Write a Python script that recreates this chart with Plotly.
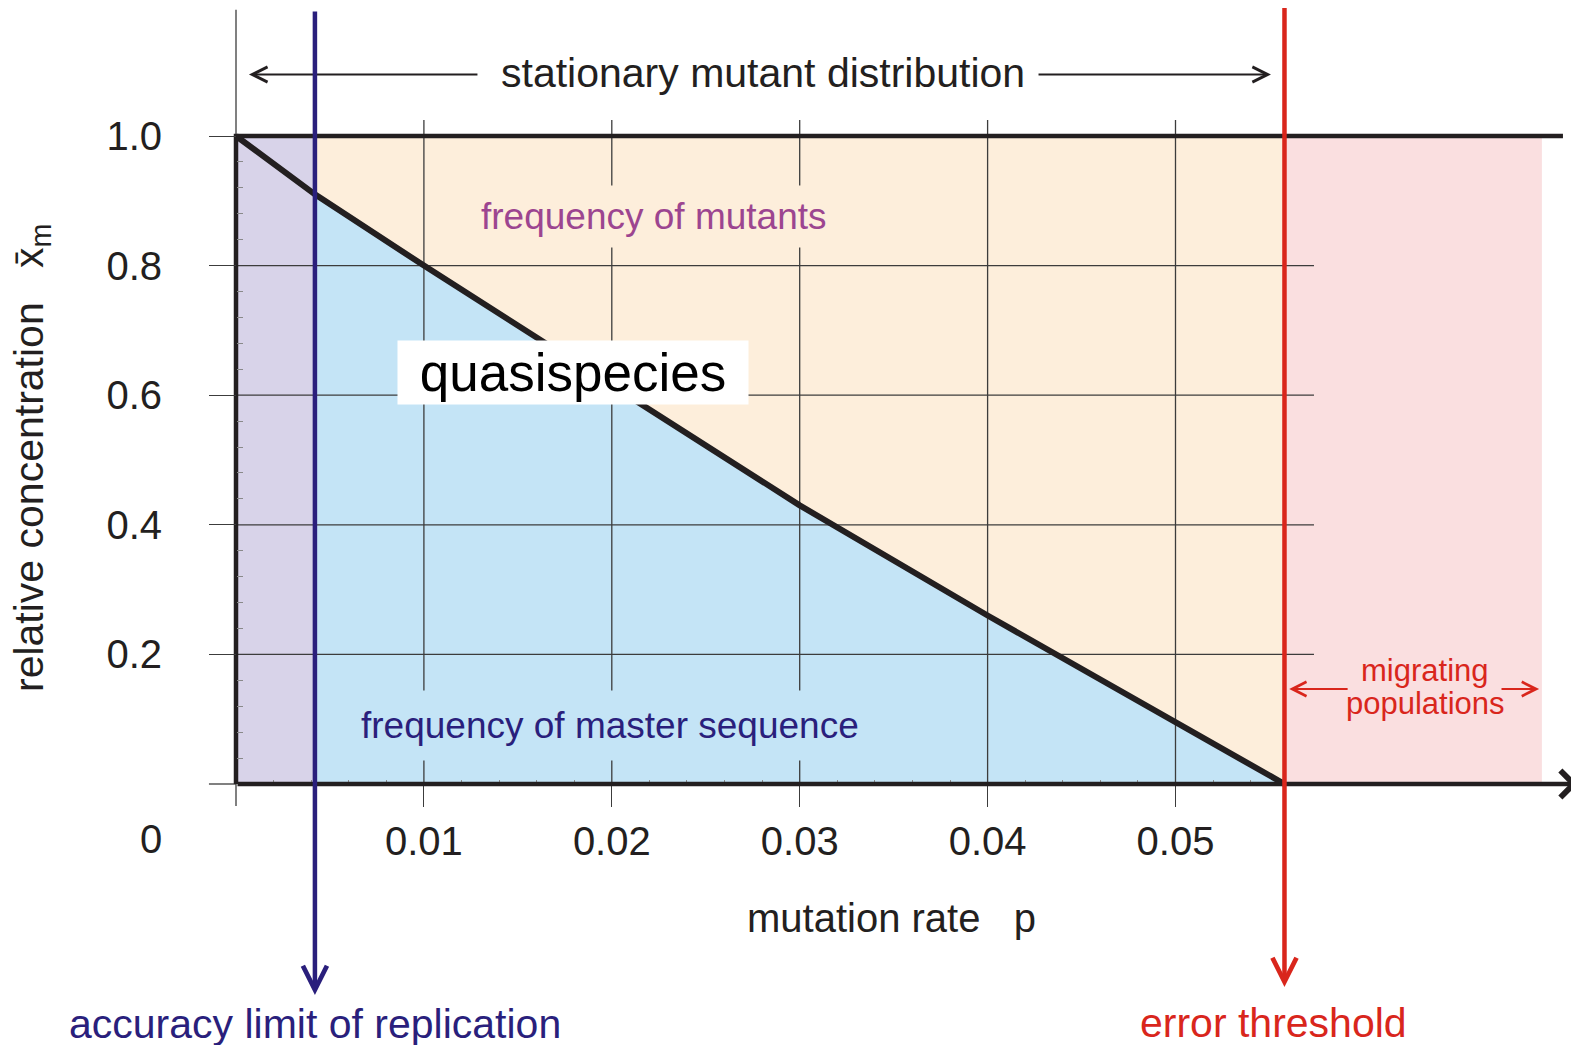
import plotly.graph_objects as go

# ---------------- data ----------------
p_vals = [0.0, 0.0042, 0.01, 0.02, 0.03, 0.04, 0.05, 0.0558]       # mutation rate p
xm_vals = [1.0, 0.91, 0.80, 0.615, 0.43, 0.26, 0.094, 0.0]         # relative concentration of master
p_accuracy = 0.0042      # accuracy limit of replication
p_error = 0.0558         # error threshold
p_migr_end = 0.0695      # end of migrating-populations band

x_tick_vals = [0.01, 0.02, 0.03, 0.04, 0.05]
x_tick_text = ["0.01", "0.02", "0.03", "0.04", "0.05"]
y_tick_vals = [0.2, 0.4, 0.6, 0.8, 1.0]
y_tick_text = ["0.2", "0.4", "0.6", "0.8", "1.0"]
grid_y = [0.2, 0.4, 0.6, 0.8]
grid_x = [0.01, 0.02, 0.03, 0.04, 0.05]

# ---------------- styling ----------------
FONT = "Liberation Sans, Arial, Helvetica, sans-serif"
BLACK = "#231f20"
GRID = "#3c3c3c"
LAV = "#d8d3e9"
BLUE_FILL = "#c4e4f6"
PEACH = "#fdeedb"
PINK = "#fadfe0"
NAVY = "#2a1f7c"
RED = "#d9261c"
PURPLE_TXT = "#9c4590"

W, H = 1571, 1037           # page body adds an 8px offset
PX_PER_X = 18790.0          # pixels per unit p
PX_PER_Y = 648.0            # pixels per unit concentration
X0_PX, Y0_PX = 228.0, 776.0
x_range = [-X0_PX / PX_PER_X, (W - X0_PX) / PX_PER_X]
y_range = [(Y0_PX - H) / PX_PER_Y, Y0_PX / PX_PER_Y]

fig = go.Figure()

# ---- regions ----
fig.add_trace(go.Scatter(x=[0, p_accuracy, p_accuracy, 0, 0], y=[0, 0, 1, 1, 0],
                         fill="toself", fillcolor=LAV, mode="none", hoverinfo="skip"))
cx = [p for p in p_vals if p >= p_accuracy]
cy = [y for p, y in zip(p_vals, xm_vals) if p >= p_accuracy]
fig.add_trace(go.Scatter(x=cx + [p_error, p_accuracy, cx[0]], y=cy + [0, 0, cy[0]],
                         fill="toself", fillcolor=BLUE_FILL, mode="none", hoverinfo="skip"))
fig.add_trace(go.Scatter(x=cx + [p_error, p_accuracy, cx[0]], y=cy + [1, 1, cy[0]],
                         fill="toself", fillcolor=PEACH, mode="none", hoverinfo="skip"))
fig.add_trace(go.Scatter(x=[p_error, p_migr_end, p_migr_end, p_error, p_error], y=[0, 0, 1, 1, 0],
                         fill="toself", fillcolor=PINK, mode="none", hoverinfo="skip"))

# ---- grid lines ----
gx, gy = [], []
for yv in grid_y:
    gx += [0, 0.05737, None]
    gy += [yv, yv, None]
for xv in grid_x:
    gx += [xv, xv, None]
    gy += [0, 1.0247, None]
gx += [0, 0, None, -0.00144, 0, None]
gy += [-0.034, 1.195, None, 0, 0, None]
fig.add_trace(go.Scatter(x=gx, y=gy, mode="lines", line=dict(color=GRID, width=1.3),
                         hoverinfo="skip"))

# ---- curve ----
fig.add_trace(go.Scatter(x=p_vals, y=xm_vals, mode="lines",
                         line=dict(color=BLACK, width=6), hoverinfo="skip"))

# ---- frame lines ----
fig.add_trace(go.Scatter(x=[0, 0, 0.07062], y=[0, 1, 1], mode="lines",
                         line=dict(color=BLACK, width=4.5), hoverinfo="skip"))

annotations = []

def arrow(x_tail, y_tail, x_tip, y_tip, color, width, head, size):
    annotations.append(dict(x=x_tip, y=y_tip, ax=x_tail, ay=y_tail, xref="x", yref="y",
                            axref="x", ayref="y", text="", showarrow=True,
                            arrowhead=head, arrowsize=size, arrowwidth=width,
                            arrowcolor=color, standoff=0, startstandoff=0))

def label(x, y, text, size, color, **kw):
    d = dict(x=x, y=y, xref="x", yref="y", text=text, showarrow=False,
             font=dict(family=FONT, size=size, color=color))
    d.update(kw)
    annotations.append(d)

# x axis with arrow
arrow(0, 0, 0.07142, 0, BLACK, 4.5, 4, 1.15)
# stationary mutant distribution arrows
arrow(0.01293, 1.0949, 0.00069, 1.0949, BLACK, 2, 5, 1.5)
arrow(0.04263, 1.0949, 0.05508, 1.0949, BLACK, 2, 5, 1.5)
# migrating populations arrows
arrow(0.05924, 0.1466, 0.05605, 0.1466, RED, 2, 5, 1.4)
arrow(0.06727, 0.1466, 0.06935, 0.1466, RED, 2, 5, 1.4)
# accuracy limit and error threshold verticals
arrow(p_accuracy, 1.1944, p_accuracy, -0.3256, NAVY, 4.5, 5, 1.05)
arrow(p_error, 1.2022, p_error, -0.3133, RED, 4.5, 5, 1.05)

# texts
label(0.02805, 1.098, "stationary mutant distribution", 41, BLACK)
label(0.02222, 0.8758, "frequency of mutants", 37, PURPLE_TXT, bgcolor=PEACH, borderpad=10)
label(0.0199, 0.091, "frequency of master sequence", 37, NAVY, bgcolor=BLUE_FILL, borderpad=14)
label(0.01793, 0.635, "quasispecies", 53, "#000000", bgcolor="#ffffff",
      width=350, height=63, borderpad=0)
label(0.06328, 0.1744, "migrating", 31, RED)
label(0.06328, 0.1235, "populations", 31, RED)
label(0.03486, -0.2068, "mutation rate&nbsp;&nbsp;&nbsp;p", 40, BLACK)
label(-0.004524, -0.0849, "0", 40, BLACK)
label(p_accuracy, -0.3704, "accuracy limit of replication", 41, NAVY)
label(0.05519, -0.3688, "error threshold", 41, RED)
label(-0.01086, 0.503, "relative concentration&nbsp;&nbsp;&nbsp;x\u0304<sub>m</sub>", 41, BLACK,
      textangle=-90)

minor_x = [0.002, 0.004, 0.006, 0.008, 0.012, 0.014, 0.016, 0.018, 0.022, 0.024, 0.026, 0.028,
           0.032, 0.034, 0.036, 0.038, 0.042, 0.044, 0.046, 0.048, 0.052, 0.054]
minor_y = [0.04, 0.08, 0.12, 0.16, 0.24, 0.28, 0.32, 0.36, 0.44, 0.48, 0.52, 0.56,
           0.64, 0.68, 0.72, 0.76, 0.84, 0.88, 0.92, 0.96]

fig.update_layout(
    width=W, height=H, margin=dict(l=0, r=0, t=0, b=0),
    paper_bgcolor="white", plot_bgcolor="white", showlegend=False,
    annotations=annotations,
    xaxis=dict(range=x_range, autorange=False, anchor="free",
               position=(H - Y0_PX) / H, showgrid=False, zeroline=False, showline=False,
               tickmode="array", tickvals=x_tick_vals, ticktext=x_tick_text,
               ticks="outside", ticklen=22, tickwidth=1.3, tickcolor=GRID,
               ticklabelstandoff=0,
               tickfont=dict(family=FONT, size=40, color=BLACK),
               minor=dict(tickmode="array", tickvals=minor_x, ticks="inside",
                          ticklen=4, tickwidth=1, tickcolor="#8a8a8a", showgrid=False)),
    yaxis=dict(range=y_range, autorange=False, anchor="free",
               position=X0_PX / W, showgrid=False, zeroline=False, showline=False,
               tickmode="array", tickvals=y_tick_vals, ticktext=y_tick_text,
               ticks="outside", ticklen=27, tickwidth=1.3, tickcolor=GRID,
               ticklabelstandoff=39,
               tickfont=dict(family=FONT, size=40, color=BLACK),
               minor=dict(tickmode="array", tickvals=minor_y, ticks="inside",
                          ticklen=6, tickwidth=1, tickcolor="#8a8a8a", showgrid=False)),
)

fig.write_html("out.html")
